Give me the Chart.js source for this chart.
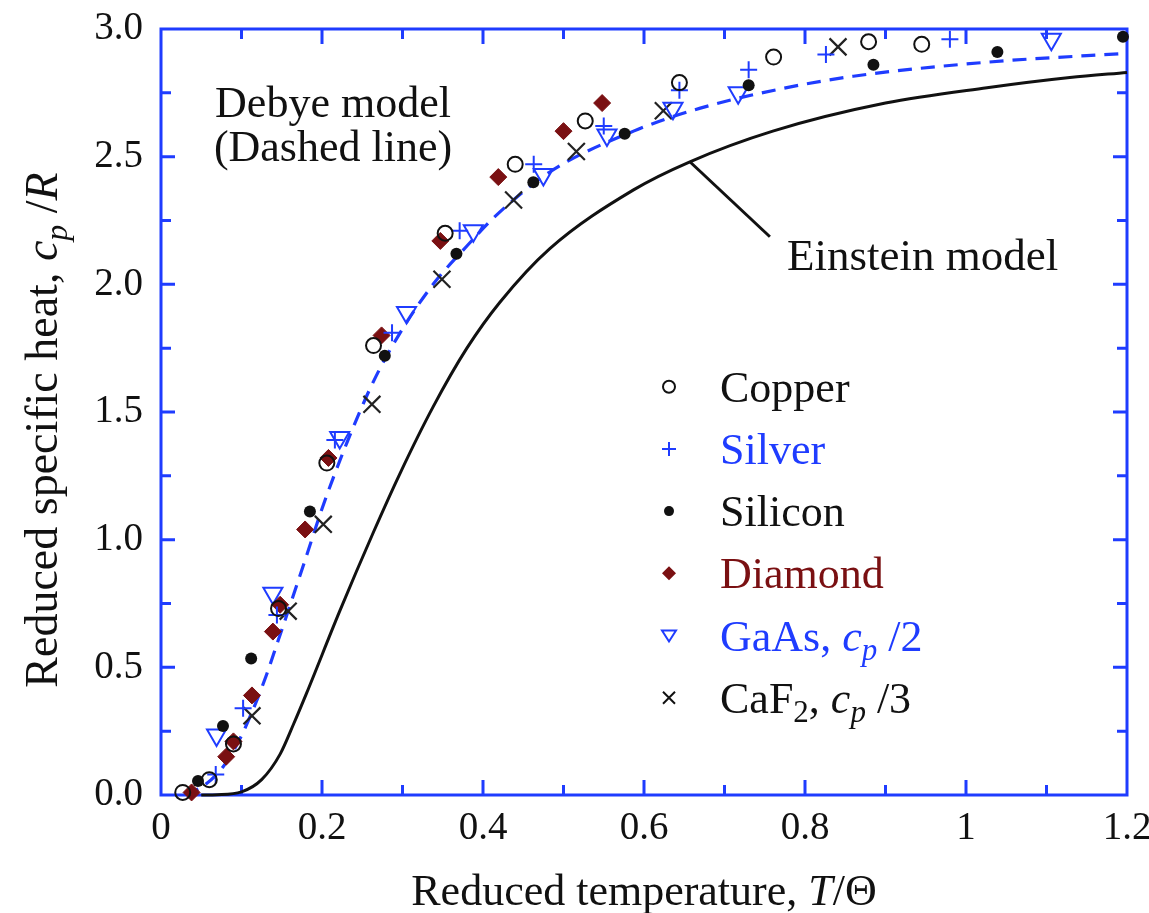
<!DOCTYPE html>
<html>
<head>
<meta charset="utf-8">
<title>Reduced specific heat</title>
<script src="https://cdn.jsdelivr.net/npm/chart.js@4.4.1/dist/chart.umd.min.js"></script>
<style>
  html, body { margin: 0; padding: 0; background: #fff; }
  #wrap { width: 1149px; height: 913px; position: relative; }
</style>
</head>
<body>
<div id="wrap"><canvas id="heatChart"></canvas></div>
<script>
// reduced temperature T/Θ and reduced specific heat cp/R
var copperT = [0.027, 0.06, 0.09, 0.146, 0.206, 0.264, 0.353, 0.44, 0.527, 0.644, 0.761, 0.879, 0.945];
var copperC = [0.01, 0.06, 0.20, 0.73, 1.30, 1.76, 2.20, 2.47, 2.64, 2.79, 2.89, 2.95, 2.94];

var silverT = [0.068, 0.102, 0.144, 0.216, 0.287, 0.371, 0.463, 0.55, 0.644, 0.73, 0.826, 0.98];
var silverC = [0.08, 0.34, 0.705, 1.39, 1.81, 2.21, 2.47, 2.62, 2.76, 2.84, 2.90, 2.96];

var siliconT = [0.046, 0.077, 0.112, 0.185, 0.278, 0.367, 0.4625, 0.576, 0.73, 0.885, 1.039, 1.195];
var siliconC = [0.055, 0.27, 0.535, 1.11, 1.72, 2.12, 2.40, 2.59, 2.78, 2.86, 2.91, 2.97];

var diamondT = [0.038, 0.081, 0.09, 0.113, 0.139, 0.148, 0.179, 0.208, 0.274, 0.347, 0.419, 0.50, 0.548];
var diamondC = [0.01, 0.15, 0.21, 0.39, 0.64, 0.745, 1.04, 1.32, 1.80, 2.17, 2.42, 2.60, 2.71];

var gaasT = [0.069, 0.139, 0.222, 0.305, 0.388, 0.475, 0.554, 0.636, 0.717, 1.106];
var gaasC = [0.235, 0.79, 1.40, 1.89, 2.21, 2.43, 2.585, 2.69, 2.75, 2.96];

var caf2T = [0.113, 0.158, 0.2016, 0.262, 0.349, 0.438, 0.516, 0.624, 0.841];
var caf2C = [0.31, 0.72, 1.06, 1.53, 2.02, 2.33, 2.52, 2.68, 2.93];

// model curves (traced)
var debyeT = [0.03, 0.05, 0.077, 0.098, 0.115, 0.131, 0.145, 0.16, 0.179, 0.201, 0.231, 0.264, 0.297,
  0.338, 0.38, 0.413, 0.483, 0.587, 0.67, 0.769, 0.86, 1.026, 1.2];
var debyeC = [0.005, 0.03, 0.11, 0.22, 0.34, 0.47, 0.60, 0.74, 0.92, 1.13, 1.38, 1.62, 1.81,
  2.00, 2.15, 2.26, 2.44, 2.60, 2.69, 2.765, 2.815, 2.87, 2.905];

var einsteinT = [0.05, 0.07, 0.10, 0.125, 0.148, 0.165, 0.181, 0.222, 0.264, 0.297, 0.338, 0.38, 0.421,
  0.483, 0.587, 0.657, 0.76, 0.90, 1.026, 1.129, 1.2];
var einsteinC = [0, 0.001, 0.012, 0.06, 0.16, 0.28, 0.40, 0.72, 1.03, 1.26, 1.52, 1.75, 1.93,
  2.14, 2.37, 2.48, 2.60, 2.71, 2.77, 2.81, 2.83];

// tick labels
var xTickValues = [0, 0.2, 0.4, 0.6, 0.8, 1, 1.2];
var xTickLabels = ['0', '0.2', '0.4', '0.6', '0.8', '1', '1.2'];
var yTickValues = [0, 0.5, 1, 1.5, 2, 2.5, 3];
var yTickLabels = ['0.0', '0.5', '1.0', '1.5', '2.0', '2.5', '3.0'];

var BLUE = '#1f3cff';
var DARK_RED = '#7a1012';
var INK = '#111111';
var SERIF = "'Liberation Serif', 'Times New Roman', serif";

// legend rows: marker, colour, rich label
var legendRows = [
  { marker : 'circle', color : INK, parts : [{ t : 'Copper' }] },
  { marker : 'cross', color : BLUE, parts : [{ t : 'Silver' }] },
  { marker : 'dot', color : INK, parts : [{ t : 'Silicon' }] },
  { marker : 'diamond', color : DARK_RED, parts : [{ t : 'Diamond' }] },
  { marker : 'triangle', color : BLUE, parts : [{ t : 'GaAs, ' }, { t : 'c', it : true }, { t : 'p', it : true, sub : true }, { t : ' /2' }] },
  { marker : 'x', color : INK, parts : [{ t : 'CaF' }, { t : '2', sub : true }, { t : ', ' }, { t : 'c', it : true }, { t : 'p', it : true, sub : true }, { t : ' /3' }] },
];

function pairs(xs, ys) {
  return xs.map(function (x, i) { return { x : x, y : ys[i] }; });
}

function labelFor(values, labels, value) {
  for (var i = 0; i < values.length; i++) {
    if (Math.abs(values[i] - value) < 1e-6) { return labels[i]; }
  }
  return '';
}

function fontFor(part, size) {
  return (part.it ? 'italic ' : '') + Math.round(part.sub ? size * 0.7 : size) + 'px ' + SERIF;
}

/** draw text made of plain / italic / subscript pieces */
function drawRich(ctx, parts, x, y, size, color, align) {
  var widths = [];
  var total = 0;
  parts.forEach(function (p) {
    ctx.font = fontFor(p, size);
    var w = ctx.measureText(p.t).width;
    widths.push(w);
    total += w;
  });
  var cx = align === 'center' ? x - total / 2 : x;
  ctx.fillStyle = color;
  ctx.textBaseline = 'alphabetic';
  ctx.textAlign = 'left';
  parts.forEach(function (p, i) {
    ctx.font = fontFor(p, size);
    ctx.fillText(p.t, cx, y + (p.sub ? size * 0.22 : 0));
    cx += widths[i];
  });
}

function drawMarker(ctx, style, x, y, color) {
  ctx.save();
  ctx.strokeStyle = color;
  ctx.fillStyle = color;
  ctx.lineWidth = 2;
  ctx.beginPath();
  if (style === 'circle') {
    ctx.arc(x, y, 6, 0, 2 * Math.PI);
    ctx.stroke();
  } else if (style === 'dot') {
    ctx.arc(x, y, 5, 0, 2 * Math.PI);
    ctx.fill();
  } else if (style === 'cross') {
    ctx.moveTo(x - 7, y); ctx.lineTo(x + 7, y);
    ctx.moveTo(x, y - 7); ctx.lineTo(x, y + 7);
    ctx.stroke();
  } else if (style === 'diamond') {
    ctx.moveTo(x, y - 7); ctx.lineTo(x + 7, y); ctx.lineTo(x, y + 7); ctx.lineTo(x - 7, y);
    ctx.closePath();
    ctx.fill();
  } else if (style === 'triangle') {
    ctx.moveTo(x - 7, y - 5); ctx.lineTo(x + 7, y - 5); ctx.lineTo(x, y + 6);
    ctx.closePath();
    ctx.stroke();
  } else if (style === 'x') {
    ctx.moveTo(x - 6, y - 6); ctx.lineTo(x + 6, y + 6);
    ctx.moveTo(x + 6, y - 6); ctx.lineTo(x - 6, y + 6);
    ctx.stroke();
  }
  ctx.restore();
}

// blue box with inward ticks on all four sides
var framePlugin = {
  id : 'frame',
  beforeDatasetsDraw : function (chart) {
    var ctx = chart.ctx;
    var a = chart.chartArea;
    var xs = chart.scales.x;
    var ys = chart.scales.y;
    ctx.save();
    ctx.strokeStyle = BLUE;
    ctx.lineWidth = 3;
    ctx.beginPath();
    for (var i = 1; i < 12; i++) {
      var px = xs.getPixelForValue(i / 10);
      var len = i % 2 === 0 ? 15 : 10;
      ctx.moveTo(px, a.bottom); ctx.lineTo(px, a.bottom - len);
      ctx.moveTo(px, a.top); ctx.lineTo(px, a.top + len);
    }
    for (var j = 1; j < 12; j++) {
      var py = ys.getPixelForValue(j / 4);
      var l = j % 2 === 0 ? 14 : 10;
      ctx.moveTo(a.left, py); ctx.lineTo(a.left + l, py);
      ctx.moveTo(a.right, py); ctx.lineTo(a.right - l, py);
    }
    ctx.stroke();
    ctx.strokeRect(a.left, a.top, a.right - a.left, a.bottom - a.top);
    ctx.restore();
  },
};

// axis titles, model notes and the legend
var notesPlugin = {
  id : 'notes',
  afterDraw : function (chart) {
    var ctx = chart.ctx;
    var a = chart.chartArea;
    var xs = chart.scales.x;
    var ys = chart.scales.y;
    ctx.save();

    drawRich(ctx, [{ t : 'Reduced temperature, ' }, { t : 'T', it : true }, { t : '/\u0398' }],
      (a.left + a.right) / 2, 905, 44, INK, 'center');

    ctx.save();
    ctx.translate(57, 430);
    ctx.rotate(-Math.PI / 2);
    drawRich(ctx, [{ t : 'Reduced specific heat, ' }, { t : 'c', it : true }, { t : 'p', it : true, sub : true },
      { t : ' /' }, { t : 'R', it : true }], 0, 0, 46, INK, 'center');
    ctx.restore();

    drawRich(ctx, [{ t : 'Debye model' }], 333, 117, 44, INK, 'center');
    drawRich(ctx, [{ t : '(Dashed line)' }], 333, 161, 44, INK, 'center');

    // leader from the Einstein curve to its label
    var lx = xs.getPixelForValue(0.657);
    var ly = ys.getPixelForValue(2.48);
    ctx.strokeStyle = INK;
    ctx.lineWidth = 3;
    ctx.beginPath();
    ctx.moveTo(lx, ly);
    ctx.lineTo(lx + 80, ly + 75);
    ctx.stroke();
    drawRich(ctx, [{ t : 'Einstein model' }], 787, 270, 45, INK, 'left');

    legendRows.forEach(function (row, i) {
      var base = 401.7 + i * 62.2;
      drawMarker(ctx, row.marker, 669, base - 15, row.color);
      drawRich(ctx, row.parts, 720, base, 44, row.color, 'left');
    });
    ctx.restore();
  },
};

var ctx = document.getElementById('heatChart').getContext('2d');

var heatChart = new Chart(ctx, {
  type : 'scatter',
  plugins : [framePlugin, notesPlugin],
  data : {
    datasets : [
      {
        label : 'Copper',
        data : pairs(copperT, copperC),
        pointStyle : 'circle',
        pointRadius : 7.5,
        pointBorderWidth : 2,
        pointBorderColor : INK,
        pointBackgroundColor : 'rgba(0,0,0,0)',
      },
      {
        label : 'Silver',
        data : pairs(silverT, silverC),
        pointStyle : 'cross',
        pointRadius : 8.5,
        pointBorderWidth : 2,
        pointBorderColor : BLUE,
      },
      {
        label : 'Silicon',
        data : pairs(siliconT, siliconC),
        pointStyle : 'circle',
        pointRadius : 6,
        pointBorderWidth : 0,
        pointBackgroundColor : INK,
      },
      {
        label : 'Diamond',
        data : pairs(diamondT, diamondC),
        pointStyle : 'rectRot',
        pointRadius : 8.5,
        pointBorderWidth : 1,
        pointBorderColor : DARK_RED,
        pointBackgroundColor : DARK_RED,
      },
      {
        label : 'GaAs, cp/2',
        data : pairs(gaasT, gaasC),
        pointStyle : 'triangle',
        rotation : 180,
        pointRadius : 11,
        pointBorderWidth : 2,
        pointBorderColor : BLUE,
        pointBackgroundColor : 'rgba(0,0,0,0)',
      },
      {
        label : 'CaF2, cp/3',
        data : pairs(caf2T, caf2C),
        pointStyle : 'crossRot',
        pointRadius : 12,
        pointBorderWidth : 2.2,
        pointBorderColor : '#222222',
      },
      {
        label : 'Debye model',
        data : pairs(debyeT, debyeC),
        showLine : true,
        borderColor : BLUE,
        borderWidth : 3.2,
        borderDash : [14, 9],
        pointRadius : 0,
        cubicInterpolationMode : 'monotone',
      },
      {
        label : 'Einstein model',
        data : pairs(einsteinT, einsteinC),
        showLine : true,
        borderColor : INK,
        borderWidth : 3,
        pointRadius : 0,
        cubicInterpolationMode : 'monotone',
      },
    ],
  },
  options : {
    responsive : true,
    maintainAspectRatio : false,
    animation : false,
    events : [],
    clip : false,
    layout : { padding : { top : 29, right : 22, left : 0, bottom : 0 } },
    plugins : {
      legend : { display : false },
      tooltip : { enabled : false },
    },
    scales : {
      x : {
        type : 'linear',
        min : 0,
        max : 1.2,
        grid : { display : false, drawTicks : false },
        border : { display : false },
        ticks : {
          stepSize : 0.1,
          autoSkip : false,
          maxRotation : 0,
          padding : 10,
          color : INK,
          font : { family : SERIF, size : 39 },
          callback : function (value) { return labelFor(xTickValues, xTickLabels, value); },
        },
        afterFit : function (scale) {
          scale.height = 118;
          scale.paddingLeft = 0;
          scale.paddingRight = 0;
        },
      },
      y : {
        type : 'linear',
        min : 0,
        max : 3,
        grid : { display : false, drawTicks : false },
        border : { display : false },
        ticks : {
          stepSize : 0.25,
          autoSkip : false,
          padding : 18,
          color : INK,
          font : { family : SERIF, size : 39 },
          callback : function (value) { return labelFor(yTickValues, yTickLabels, value); },
        },
        afterFit : function (scale) {
          scale.width = 161;
          scale.paddingTop = 0;
          scale.paddingBottom = 0;
        },
      },
    },
  },
});
</script>
</body>
</html>
